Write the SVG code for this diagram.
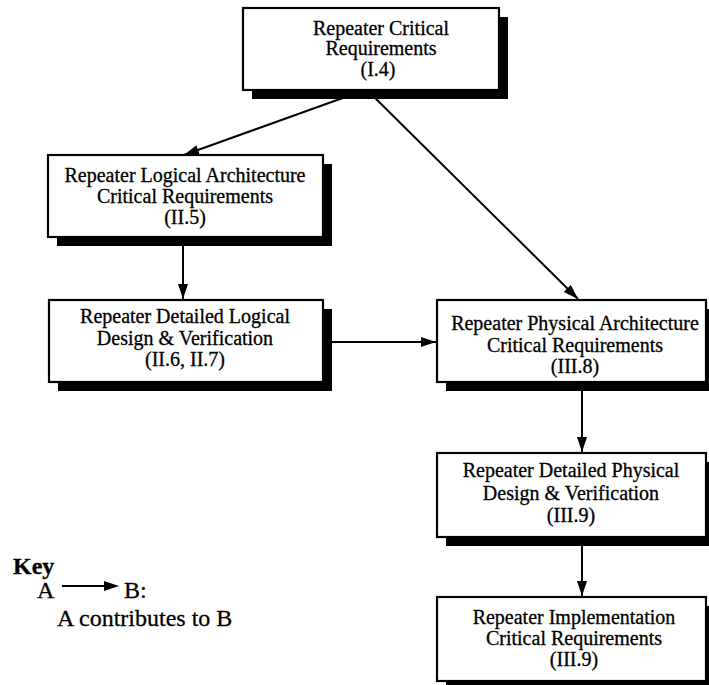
<svg xmlns="http://www.w3.org/2000/svg" width="709" height="685" viewBox="0 0 709 685">
<defs>
<style>
.shadow{fill:#000}
.box{fill:#fff;stroke:#000;stroke-width:2.2}
.t{font-family:"Liberation Serif","Times New Roman",serif;font-size:20px;fill:#000;stroke:#000;stroke-width:0.3;text-anchor:middle}
.k{font-family:"Liberation Serif","Times New Roman",serif;font-size:24px;fill:#000;stroke:#000;stroke-width:0.3}
.edge{stroke:#000;stroke-width:2;fill:none;marker-end:url(#ah)}
</style>
<marker id="ah" markerUnits="userSpaceOnUse" markerWidth="16" markerHeight="11" refX="15" refY="5" orient="auto">
<path d="M0,0 L15,5 L0,10 z" fill="#000"/>
</marker>
</defs>
<rect width="709" height="685" fill="#fff"/>
<g id="connectors">
<line class="edge" x1="365" y1="90" x2="184" y2="155"/>
<line class="edge" x1="367" y1="90" x2="578" y2="299"/>
<line class="edge" x1="183" y1="246" x2="183" y2="299"/>
<line class="edge" x1="332" y1="342" x2="436" y2="342"/>
<line class="edge" x1="582" y1="391" x2="582" y2="452"/>
<line class="edge" x1="582" y1="546" x2="582" y2="596"/>
</g>
<g id="n1">
<rect class="shadow" x="252" y="17" width="256" height="82"/>
<rect class="box" x="243" y="8" width="256" height="82"/>
<text class="t" x="381" y="35">Repeater Critical</text>
<text class="t" x="381" y="55">Requirements</text>
<text class="t" x="378" y="76">(I.4)</text>
</g>
<g id="n2">
<rect class="shadow" x="57" y="164" width="275" height="82"/>
<rect class="box" x="48" y="155" width="275" height="82"/>
<text class="t" x="185" y="182">Repeater Logical Architecture</text>
<text class="t" x="185" y="203">Critical Requirements</text>
<text class="t" x="185" y="224">(II.5)</text>
</g>
<g id="n3">
<rect class="shadow" x="58" y="309" width="274" height="82"/>
<rect class="box" x="49" y="300" width="274" height="82"/>
<text class="t" x="185" y="323">Repeater Detailed Logical</text>
<text class="t" x="185" y="345">Design &amp; Verification</text>
<text class="t" x="185" y="366">(II.6, II.7)</text>
</g>
<g id="n4">
<rect class="shadow" x="446" y="309" width="269" height="82"/>
<rect class="box" x="437" y="300" width="269" height="82"/>
<text class="t" x="575" y="330">Repeater Physical Architecture</text>
<text class="t" x="575" y="352">Critical Requirements</text>
<text class="t" x="575" y="373">(III.8)</text>
</g>
<g id="n5">
<rect class="shadow" x="446" y="462" width="269" height="84"/>
<rect class="box" x="437" y="453" width="269" height="84"/>
<text class="t" x="571" y="477">Repeater Detailed Physical</text>
<text class="t" x="571" y="500">Design &amp; Verification</text>
<text class="t" x="571" y="522">(III.9)</text>
</g>
<g id="n6">
<rect class="shadow" x="446" y="606" width="269" height="84"/>
<rect class="box" x="437" y="597" width="269" height="84"/>
<text class="t" x="574" y="624">Repeater Implementation</text>
<text class="t" x="574" y="645">Critical Requirements</text>
<text class="t" x="574" y="666">(III.9)</text>
</g>
<g id="key">
<text class="k" x="13" y="574" font-weight="bold" font-size="23">Key</text>
<text class="k" x="37" y="598">A</text>
<line x1="62" y1="586" x2="106" y2="586" stroke="#000" stroke-width="2"/>
<path d="M104,581 L119,586 L104,591 z" fill="#000"/>
<text class="k" x="124" y="598">B:</text>
<text class="k" x="57" y="626">A contributes to B</text>
</g>
</svg>
